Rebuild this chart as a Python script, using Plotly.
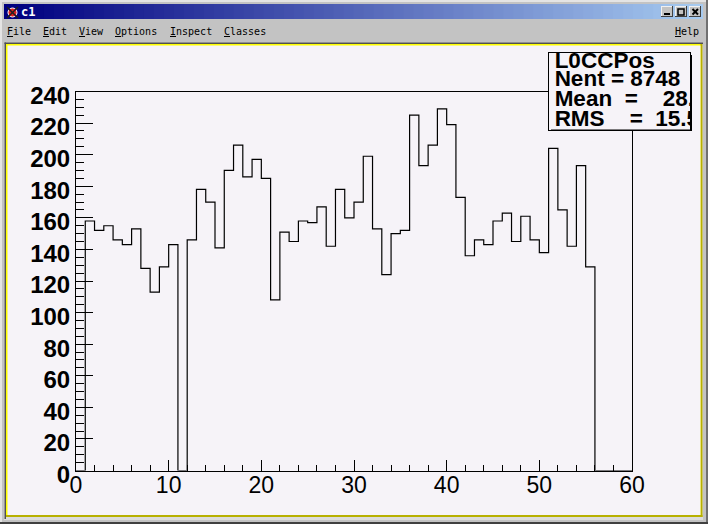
import plotly.graph_objects as go
import numpy as np

W, H = 708, 524

# Histogram contents (bin width 1, from 0 to 60)
bin_values = [0, 158, 152, 155, 146, 143, 153, 128, 113, 129, 143, 0, 146, 178, 170, 141,
              190, 206, 186, 197, 185, 108, 151, 145, 158, 157, 167, 142, 178, 160,
              170, 199, 153, 124, 150, 152, 225, 193, 206, 229, 219, 173, 136, 146,
              143, 158, 163, 145, 161, 146, 138, 204, 165, 142, 193, 129,
              0, 0, 0, 0]
y_ticks = [0, 20, 40, 60, 80, 100, 120, 140, 160, 180, 200, 220, 240]
x_ticks = [0, 10, 20, 30, 40, 50, 60]
menu_left = ["<u>F</u>ile", "<u>E</u>dit", "<u>V</u>iew", "<u>O</u>ptions", "<u>I</u>nspect", "<u>C</u>lasses"]
menu_x = [5, 41, 77, 113, 168, 222]
stats_lines = ["L0CCPos", "Nent = 8748", "Mean  =    28.8", "RMS    =  15.5"]

BG = "#f6f3f8"
CHROME = "#c3c3c3"
YELLOW = "#ffff00"
DARK_YELLOW = "#b8b000"


def px(x):
    return x / W


def py(y):
    return 1 - y / H


def rect(x0, y0, x1, y1, fill, layer="below"):
    return dict(type="rect", xref="paper", yref="paper", x0=px(x0), x1=px(x1), y0=py(y0), y1=py(y1),
                fillcolor=fill, line=dict(width=0), layer=layer)


def seg(x0, y0, x1, y1, color, width=1, layer="below"):
    return dict(type="line", xref="paper", yref="paper", x0=px(x0), x1=px(x1), y0=py(y0), y1=py(y1),
                line=dict(color=color, width=width), layer=layer)


shapes = [
    rect(0, 0, W, H, CHROME),
    rect(0, 0, W, 2, "#e4e4e4"),
    rect(0, 0, 2, H, "#e4e4e4"),
    rect(W - 2, 0, W, H, "#707070"),
    rect(0, H - 2, W, H, "#404040"),
]
# Title bar gradient
c0 = np.array([0, 0, 128])
c1 = np.array([166, 202, 240])
n = 70
for i in range(n):
    a = i / (n - 1)
    c = (c0 + (c1 - c0) * a).astype(int)
    xa = 4 + (703 - 4) * i / n
    xb = 4 + (703 - 4) * (i + 1) / n + 1
    shapes.append(rect(xa, 4, min(xb, 703), 19, f"rgb({c[0]},{c[1]},{c[2]})"))
# Canvas frame
shapes += [
    rect(4, 42.5, 703, 520, "#dcdcdc"),
    rect(4.5, 42.5, 703, 44, "#505050"),
    rect(4.5, 42.5, 6, 519, "#505050"),
    rect(6, 44, 701, 517, YELLOW),
    rect(700.5, 44, 702.5, 517, DARK_YELLOW),
    rect(6, 515, 702.5, 517, DARK_YELLOW),
    rect(7.5, 45.5, 700.5, 515, BG),
]
# window buttons
for bx in (661, 675, 689):
    shapes.append(rect(bx, 6, bx + 12, 17, CHROME))
    shapes.append(rect(bx + 11, 6, bx + 12, 17, "#404040"))
    shapes.append(rect(bx, 16, bx + 12, 17, "#404040"))
    shapes.append(rect(bx, 6, bx + 11, 7, "#f0f0f0"))
    shapes.append(rect(bx, 6, bx + 1, 16, "#f0f0f0"))
shapes += [
    rect(664, 13, 670, 15, "black"),
    dict(type="rect", xref="paper", yref="paper", x0=px(678), x1=px(684), y0=py(9), y1=py(15),
         line=dict(color="black", width=1.5), fillcolor="rgba(0,0,0,0)", layer="below"),
    seg(692.5, 9, 698, 14.5, "black", 2),
    seg(692.5, 14.5, 698, 9, "black", 2),
]
# window icon
shapes += [
    dict(type="circle", xref="paper", yref="paper", x0=px(8), x1=px(17), y0=py(8), y1=py(17),
         fillcolor="#e02020", line=dict(color="white", width=1), layer="below"),
    seg(7, 7, 18, 18, "#202020", 1.5),
    seg(7, 18, 18, 7, "#202020", 1.5),
]
# stats box shadow
shapes += [
    rect(690, 55, 692, 131, "black", layer="above"),
    rect(551, 129.5, 692, 131, "black", layer="above"),
    rect(76, 471, 632, 472, "#a0a0a0", layer="below"),
]

edges = np.arange(len(bin_values) + 1)
steps = bin_values + [bin_values[-1]]

fig = go.Figure()
fig.add_trace(go.Scatter(x=edges, y=steps, mode="lines", line=dict(shape="hv", color="black", width=1.2),
                         hoverinfo="skip", showlegend=False, xaxis="x", yaxis="y"))
fig.add_trace(go.Scatter(x=[0, 1, 1, 0, 0], y=[0, 0, 1, 1, 0], mode="lines", fill="toself",
                         fillcolor=BG, line=dict(width=0), hoverinfo="skip", showlegend=False,
                         xaxis="x2", yaxis="y2"))
fig.add_trace(go.Scatter(x=[0.04] * 4, y=[0.885, 0.64, 0.385, 0.13], mode="text", text=stats_lines,
                         textposition="middle right",
                         textfont=dict(family="Liberation Sans", size=22.5, color="black", weight="bold"),
                         cliponaxis=True, hoverinfo="skip", showlegend=False, xaxis="x2", yaxis="y2"))

annotations = [
    dict(text=t, x=px(mx), y=py(32), xref="paper", yref="paper", xanchor="left", yanchor="middle", showarrow=False,
         font=dict(family="DejaVu Sans Mono", size=10, color="black")) for t, mx in zip(menu_left, menu_x)
]
annotations += [
    dict(text="<u>H</u>elp", x=px(701), y=py(32), xref="paper", yref="paper", xanchor="right", yanchor="middle",
         showarrow=False, font=dict(family="DejaVu Sans Mono", size=10, color="black")),
    dict(text="<b>c1</b>", x=px(19), y=py(12), xref="paper", yref="paper", xanchor="left", yanchor="middle",
         showarrow=False, font=dict(family="DejaVu Sans Mono", size=12, color="white")),
]

fig.update_layout(
    width=W, height=H, margin=dict(l=0, r=0, t=0, b=0, autoexpand=False), paper_bgcolor=CHROME, plot_bgcolor=BG,
    shapes=shapes, annotations=annotations, showlegend=False,
    xaxis=dict(domain=[px(76), px(632)], range=[0, 60], anchor="y", tickvals=x_ticks, ticktext=[str(v) for v in x_ticks],
               ticks="inside", ticklen=11, tickcolor="black", tickwidth=1, automargin=False,
               minor=dict(dtick=2, ticks="inside", ticklen=6, tickcolor="black", tickwidth=1),
               showgrid=False, zeroline=False, showline=True, linecolor="black", linewidth=1, mirror=True,
               tickfont=dict(family="Liberation Sans", size=23, color="black"), tickangle=0,
               ticklabelstandoff=-6),
    yaxis=dict(domain=[py(470.5), py(91.5)], range=[0, 240], anchor="x", tickvals=y_ticks, ticktext=[str(v) for v in y_ticks],
               ticks="inside", ticklen=17, tickcolor="black", tickwidth=1, automargin=False,
               minor=dict(dtick=5, ticks="inside", ticklen=8, tickcolor="black", tickwidth=1),
               showgrid=False, zeroline=False, showline=True, linecolor="black", linewidth=1, mirror=True,
               tickfont=dict(family="Liberation Sans", size=24, color="black", weight="bold"),
               ticklabelshift=4),
    xaxis2=dict(domain=[px(549), px(690)], range=[0, 1], anchor="y2", visible=True, showticklabels=False, ticks="",
                automargin=False, showgrid=False, zeroline=False, showline=True, linecolor="black", linewidth=1,
                mirror=True, fixedrange=True),
    yaxis2=dict(domain=[py(130), py(53)], range=[0, 1], anchor="x2", visible=True, showticklabels=False, ticks="",
                automargin=False, showgrid=False, zeroline=False, showline=True, linecolor="black", linewidth=1,
                mirror=True, fixedrange=True),
)

fig.write_html("out.html", config=dict(displayModeBar=False),
               post_script="document.body.style.margin='0';document.body.style.overflow='hidden';")
